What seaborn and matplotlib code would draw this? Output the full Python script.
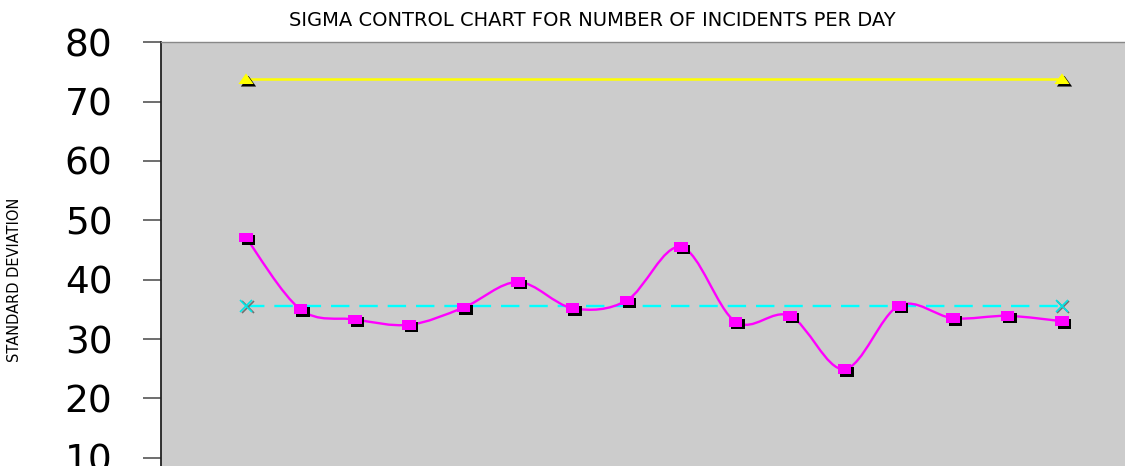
import matplotlib
matplotlib.use('Agg')
import numpy as np
import pandas as pd
import seaborn as sns
from matplotlib import pyplot as plt
from matplotlib.path import Path
from matplotlib.patches import PathPatch
from matplotlib.transforms import offset_copy

# values
days = list(range(1, 17))
sigma = [47.1, 35.0, 33.3, 32.4, 35.3, 39.6, 35.2, 36.5,
         45.5, 32.9, 33.9, 24.9, 35.6, 33.5, 33.9, 33.0]
ucl = 73.8
center = 35.6
y_ticks = [10, 20, 30, 40, 50, 60, 70, 80]

title = 'SIGMA CONTROL CHART FOR NUMBER OF INCIDENTS PER DAY'
ylabel = 'STANDARD DEVIATION'

df = pd.DataFrame({'day': days, 'sigma': sigma})
ends = pd.DataFrame({'day': [days[0], days[-1]],
                     'ucl': [ucl, ucl], 'center': [center, center]})

sns.set_style('white')
plt.rcParams['font.family'] = ['DejaVu Sans']

fig = plt.figure(figsize=(11.25, 4.66), dpi=100)
ax = fig.add_axes([161 / 1125, 0, 1 - 161 / 1125, 1 - 42.3 / 466])
ax.set_facecolor('#cccccc')

# bezier (catmull-rom style) path through the data points, drawn in data coords
def smooth_path(xs, ys):
    pts = np.column_stack([xs, ys]).astype(float)
    verts = [pts[0]]
    codes = [Path.MOVETO]
    n = len(pts)
    for i in range(n - 1):
        p0 = pts[max(i - 1, 0)]
        p1 = pts[i]
        p2 = pts[i + 1]
        p3 = pts[min(i + 2, n - 1)]
        verts += [p1 + (p2 - p0) / 6, p2 - (p3 - p1) / 6, p2]
        codes += [Path.CURVE4] * 3
    return Path(verts, codes)

shadow = offset_copy(ax.transData, fig=fig, x=2.5, y=-2.5, units='dots')
xshadow = offset_copy(ax.transData, fig=fig, x=1.5, y=-1.5, units='dots')

square = [(-1, -0.72), (1, -0.72), (1, 0.72), (-1, 0.72), (-1, -0.72)]
tri = [(-1, -0.65), (1, -0.65), (0, 0.75), (-1, -0.65)]

# upper limit (yellow)
sns.lineplot(data=ends, x='day', y='ucl', color='#ffff00', lw=1.8, ax=ax, zorder=2)
sns.scatterplot(data=ends, x='day', y='ucl', marker=tri, s=120, color='black',
                edgecolor='none', transform=shadow, ax=ax, zorder=3)
sns.scatterplot(data=ends, x='day', y='ucl', marker=tri, s=120, color='#ffff00',
                edgecolor='none', ax=ax, zorder=4)

# center line (cyan dashed)
ax.plot(ends['day'], ends['center'], color='#00ffff', lw=1.7,
        dashes=(7.8, 4.2), zorder=2)
ax.plot(ends['day'], ends['center'], ls='none', marker='x', ms=8, mew=1.2,
        color='#707070', transform=xshadow, zorder=3)
ax.plot(ends['day'], ends['center'], ls='none', marker='x', ms=8, mew=1.2,
        color='#00e5e5', zorder=4)

# sigma series (magenta, smoothed)
ax.add_patch(PathPatch(smooth_path(df['day'], df['sigma']), facecolor='none',
                       edgecolor='#ff00ff', lw=1.7, zorder=5))
sns.scatterplot(data=df, x='day', y='sigma', marker=square, s=95, color='black',
                edgecolor='none', transform=shadow, ax=ax, zorder=6)
sns.scatterplot(data=df, x='day', y='sigma', marker=square, s=95, color='#ff00ff',
                edgecolor='none', ax=ax, zorder=7)

step = (1062 - 246) / 15
ax.set_xlim(days[0] - (246 - 161) / step, days[0] + (1125 - 246) / step)
ax.set_ylim(80 - (466 - 42.3) / 5.934, 80)

ax.set_yticks(y_ticks)
ax.set_yticklabels([str(v) for v in y_ticks])
ax.set_xticks([])
ax.set_xlabel('')
ax.set_ylabel('')
ax.tick_params(axis='y', direction='out', length=13, width=1.2, colors='#555555',
               labelcolor='black', labelsize=27, pad=22, left=True)

for side in ['bottom', 'right']:
    ax.spines[side].set_visible(False)
ax.spines['top'].set_color('#888888')
ax.spines['top'].set_linewidth(1.0)
ax.spines['left'].set_color('#222222')
ax.spines['left'].set_linewidth(1.3)

fig.text(592 / 1125, 1 - 20.5 / 466, title, ha='center', va='center',
         fontsize=14, color='black')
fig.text(15 / 1125, 1 - 280 / 466, ylabel, ha='center', va='center',
         rotation=90, fontsize=10.5, color='black')

fig.savefig('out.png', dpi=100, facecolor='white')
